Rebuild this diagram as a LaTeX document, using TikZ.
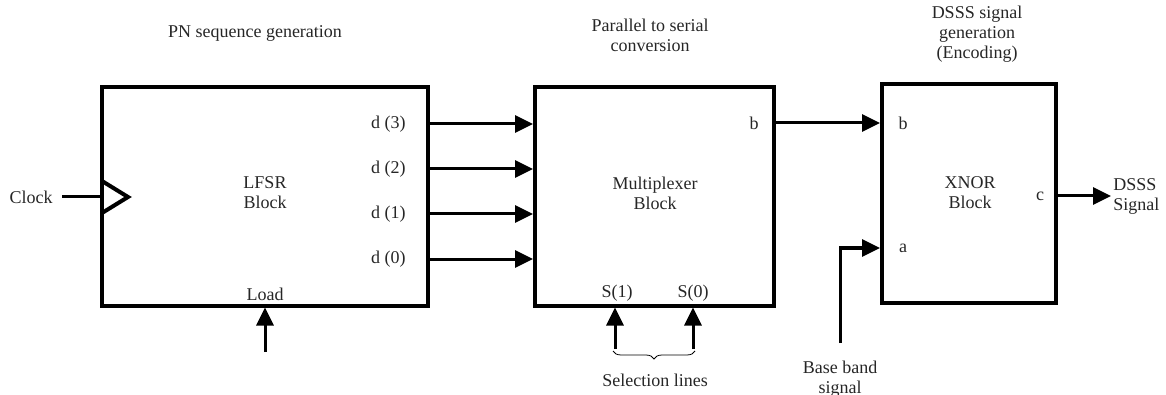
\documentclass[tikz,border=0pt]{standalone}
\usepackage{fontspec}
\setmainfont{Liberation Serif}
\usetikzlibrary{arrows.meta,decorations.pathreplacing}

\begin{document}
\begin{tikzpicture}[x=0.5pt,y=-0.5pt,
  txt/.style={font=\fontsize{9}{10}\selectfont,text=black!85,align=center,inner sep=1pt},
  blockbox/.style={draw,line width=2pt,inner sep=0pt},
  sig/.style={line width=1.5pt,-{Triangle[length=9pt,width=8.5pt]}}]
  \useasboundingbox (0,0) rectangle (1166,395);
  % the three blocks
  \node[blockbox,minimum width=163pt,minimum height=109pt] (lfsr) at (265,196.5) {};
  \node[blockbox,minimum width=119.5pt,minimum height=109pt] (mux) at (654.5,196.5) {};
  \node[blockbox,minimum width=87pt,minimum height=109.5pt] (xnor) at (969,193.5) {};
  \node[txt] (lfsrname) at (265,193) {LFSR\\Block};
  \node[txt] (muxname) at (655,193) {Multiplexer\\Block};
  \node[txt] (xnorname) at (970,193) {XNOR\\Block};
  % titles
  \node[txt] (t1) at (255,33) {PN sequence generation};
  \node[txt] (t2) at (650,35) {Parallel to serial\\conversion};
  \node[txt] (t3) at (977,34) {DSSS signal\\generation\\(Encoding)};
  % clock input
  \node[txt,anchor=east] (clk) at (55,197) {Clock};
  \coordinate (clkin) at (lfsr.west |- clk);
  \draw[line width=1.5pt] (clk.east) ++(7,0) -- (clkin);
  \draw[line width=2pt] (102,181) -- (128,197) -- (102,213);
  % load input
  \node[txt] (load) at (265,294) {Load};
  \coordinate (loadin) at (265,352);
  \draw[sig] (loadin) -- (lfsr.south);
  % parallel lines
  \foreach \i/\y in {3/124,2/169,1/214,0/259}{
    \node[txt,anchor=east] (d\i) at (408,\y) {d (\i)};
    \draw[sig] (lfsr.east |- d\i) -- (mux.west |- d\i);
  }
  % multiplexer output to xnor
  \node[txt] (bout) at (754,123) {b};
  \node[txt] (bin) at (903,123) {b};
  \draw[sig] (mux.east |- bout) -- (xnor.west |- bin);
  % selection lines
  \node[txt] (s1) at (617,293) {S(1)};
  \node[txt] (s0) at (693,293) {S(0)};
  \coordinate (s1in) at (615,349);
  \coordinate (s0in) at (693,349);
  \draw[sig] (s1in) -- (s1in |- mux.south);
  \draw[sig] (s0in) -- (s0in |- mux.south);
  \draw[thin,decorate,decoration={brace,amplitude=4pt}] (695,351) -- (613,351);
  \node[txt] (sel) at (655,380) {Selection lines};
  % base band input
  \node[txt] (ain) at (903,248) {a};
  \node[txt] (base) at (840,379) {Base band\\signal};
  \coordinate (basein) at (840,343);
  \draw[sig] (basein) |- (xnor.west |- ain);
  % output
  \node[txt] (cout) at (1040,196) {c};
  \node[txt,anchor=west,align=left] (dsss) at (1111,196) {DSSS\\Signal};
  \draw[sig] (xnor.east |- cout) -- (dsss.west);
\end{tikzpicture}
\end{document}
